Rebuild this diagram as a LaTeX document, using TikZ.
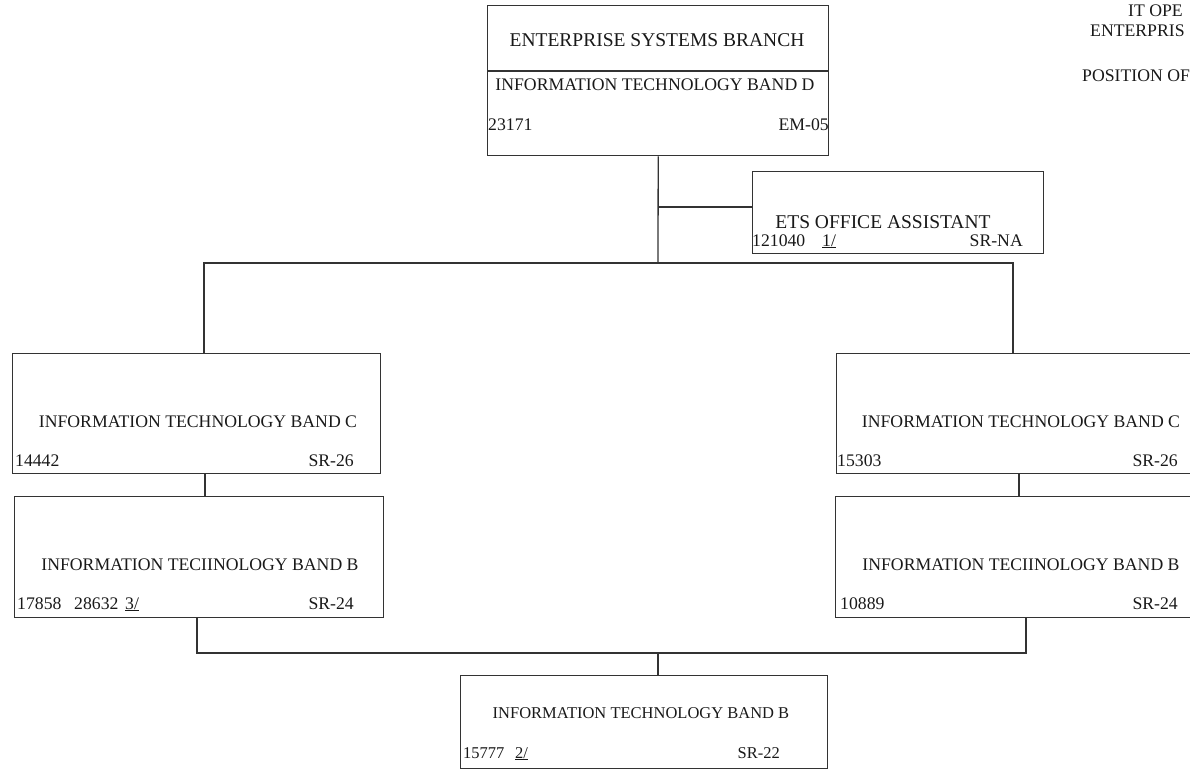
\documentclass[tikz,border=0pt]{standalone}
\usepackage{fontspec}
\setmainfont{Liberation Serif}
\begin{document}
\begin{tikzpicture}[x=1pt,y=-1pt,
  box/.style={draw=black!80, line width=1.4pt, rectangle, inner sep=0pt, anchor=north west},
  wire/.style={draw=black!80, line width=1.3pt},
  txt/.style={inner sep=0pt, text=black!90, font=\fontsize{17.7}{20}\selectfont},
  big/.style={txt, font=\fontsize{19.5}{21}\selectfont},
  small/.style={txt, font=\fontsize{16.5}{19}\selectfont},
  lft/.style={txt, anchor=base west},
  rgt/.style={txt, anchor=base east}]
\useasboundingbox (0,0) rectangle (1190,770);
\clip (0,0) rectangle (1190,770);

% heading at the upper right
\node[lft] (hd1) at (1128,17) {IT OPE};
\node[lft] (hd2) at (1090,37) {ENTERPRIS};
\node[lft] (hd3) at (1082,82) {POSITION OF};

% branch head
\node[box, minimum width=341pt, minimum height=150pt] (esb) at (487,5) {};
\coordinate (divy) at (0,71);
\draw[wire] (esb.west |- divy) -- (esb.east |- divy);
\node[big] (esbT) at (657,40) {ENTERPRISE SYSTEMS BRANCH};
\node[txt] (esbB) at (655,85) {INFORMATION TECHNOLOGY BAND D};
\node[lft] (esbN) at (488,131) {23171};
\node[rgt] (esbG) at (829,131) {EM-05};

% office assistant
\node[box, minimum width=291pt, minimum height=82pt] (ets) at (752,171) {};
\node[big] (etsT) at (883,222) {ETS OFFICE ASSISTANT};
\node[lft] (etsN) at (752,246) {121040};
\node[lft] (etsF) at (822,246) {\underline{1/}};
\node[rgt] (etsG) at (1023,246) {SR-NA};

% left column
\node[box, minimum width=368pt, minimum height=120pt] (cl) at (12,353) {};
\node[txt] (clT) at (198,422) {INFORMATION TECHNOLOGY BAND C};
\node[lft] (clN) at (15,466) {14442};
\node[rgt] (clG) at (354,466) {SR-26};

\node[box, minimum width=369pt, minimum height=121pt] (bl) at (14,496) {};
\node[txt] (blT) at (200,565) {INFORMATION TECIINOLOGY BAND B};
\node[lft] (blN1) at (17,609) {17858};
\node[lft] (blN2) at (74,609) {28632};
\node[lft] (blF) at (125,609) {\underline{3/}};
\node[rgt] (blG) at (354,609) {SR-24};

% right column
\node[box, minimum width=368pt, minimum height=120pt] (cr) at (836,353) {};
\node[txt] (crT) at (1021,422) {INFORMATION TECHNOLOGY BAND C};
\node[lft] (crN) at (837,466) {15303};
\node[rgt] (crG) at (1178,466) {SR-26};

\node[box, minimum width=369pt, minimum height=121pt] (br) at (835,496) {};
\node[txt] (brT) at (1021,565) {INFORMATION TECIINOLOGY BAND B};
\node[lft] (brN) at (840,609) {10889};
\node[rgt] (brG) at (1178,609) {SR-24};

% bottom position
\node[box, minimum width=367pt, minimum height=93pt] (bot) at (460,675) {};
\node[small] (botT) at (641,713) {INFORMATION TECHNOLOGY BAND B};
\node[small, anchor=base west] (botN) at (463,758) {15777};
\node[small, anchor=base west] (botF) at (515,758) {\underline{2/}};
\node[small, anchor=base east] (botG) at (780,758) {SR-22};

% connectors
\coordinate (hub) at (658,263);
\coordinate (etsJ) at (658,207);
\coordinate (hl) at (204,263);
\coordinate (hr) at (1013,263);
\coordinate (vl) at (205,0);
\coordinate (vr) at (1019,0);
\coordinate (ml) at (197,653);
\coordinate (mr) at (1026,653);
\coordinate (mc) at (658,653);

\draw[wire] (esb.south) -- (hub);
\draw[wire] (etsJ) -- (ets.west |- etsJ);
\draw[wire] (cl.north -| hl) -- (hl) -- (hr) -- (cr.north -| hr);
\draw[wire] (cl.south -| vl) -- (bl.north -| vl);
\draw[wire] (cr.south -| vr) -- (br.north -| vr);
\draw[wire] (bl.south -| ml) -- (ml) -- (mr) -- (br.south -| mr);
\draw[wire] (mc) -- (bot.north -| mc);
\end{tikzpicture}
\end{document}
